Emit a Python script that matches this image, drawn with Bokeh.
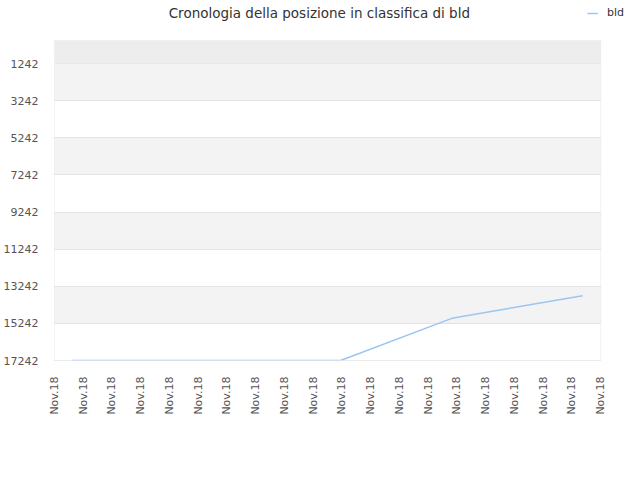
from bokeh.plotting import figure
from bokeh.models import FixedTicker, Range1d, Legend, LegendItem, BoxAnnotation, Label
from bokeh.embed import file_html
from bokeh.resources import INLINE
import math

title_text = "Cronologia della posizione in classifica di bld"
series_name = "bld"
x_tick_labels = ["Nov.18"] * 20
x_ticks = list(range(len(x_tick_labels)))
y_ticks = [1242, 3242, 5242, 7242, 9242, 11242, 13242, 15242, 17242]
y_worst, y_best = 17242, 0
time_x = [0.62, 9.95, 13.82, 18.37]
rank = [17242, 17242, 14970, 13750]

FONT = "DejaVu Sans"
LINE_COLOR = "#99c6f3"
BORDER = "#d8d8d8"

# canvas / plot-area geometry (pixels)
W, H = 632, 472
AREA_L, AREA_R, AREA_T, AREA_B = 50, 600, 40, 360
PAD = 2  # frame extends a little past the plot area on left/bottom so the border is not clipped
FRAME_L, FRAME_B = AREA_L - PAD, AREA_B + PAD

x_lo, x_hi = x_ticks[0], x_ticks[-1]
x_per_px = (x_hi - x_lo) / (AREA_R - AREA_L)
y_per_px = (y_worst - y_best) / (AREA_B - AREA_T)


def px_x(px):
    return x_lo + (px - AREA_L) * x_per_px


def px_y(py):
    return y_best + (py - AREA_T) * y_per_px


p = figure(width=W, height=H, output_backend="svg", toolbar_location=None,
           x_range=Range1d(px_x(FRAME_L), px_x(W)), y_range=Range1d(px_y(FRAME_B), px_y(0)),
           min_border_left=FRAME_L, min_border_right=0, min_border_top=0,
           min_border_bottom=H - FRAME_B)
p.title = None
p.background_fill_color = "white"
p.border_fill_color = "white"
p.outline_line_color = None

p.add_layout(BoxAnnotation(left=x_lo, right=x_hi, top=y_best, bottom=y_ticks[0],
                           fill_color="#ededed", fill_alpha=1, line_alpha=0, level="underlay"))

r = p.line(time_x, rank, line_color=LINE_COLOR, line_width=1.5)

p.xgrid.visible = False
p.ygrid.ticker = FixedTicker(ticks=y_ticks)
p.ygrid.grid_line_color = "#e3e3e3"
p.ygrid.band_fill_color = "#f3f3f3"
p.ygrid.band_fill_alpha = 1

# white margins outside the plot area
p.add_layout(BoxAnnotation(left=x_hi, fill_color="white", fill_alpha=1, line_alpha=0))
p.add_layout(BoxAnnotation(right=x_lo, fill_color="white", fill_alpha=1, line_alpha=0))
p.add_layout(BoxAnnotation(bottom=y_best, fill_color="white", fill_alpha=1, line_alpha=0))
p.add_layout(BoxAnnotation(top=y_worst, fill_color="white", fill_alpha=1, line_alpha=0))
# plot-area border
p.add_layout(BoxAnnotation(left=x_lo, right=x_hi, top=y_best, bottom=y_worst,
                           fill_alpha=0, line_color=BORDER, line_width=1))

p.xaxis.ticker = FixedTicker(ticks=x_ticks)
p.xaxis.major_label_overrides = {i: lab for i, lab in zip(x_ticks, x_tick_labels)}
p.xaxis.major_label_orientation = math.pi / 2
p.yaxis.ticker = FixedTicker(ticks=y_ticks)
for ax in (p.xaxis[0], p.yaxis[0]):
    ax.axis_line_color = None
    ax.major_tick_line_color = None
    ax.minor_tick_line_color = None
    ax.major_label_text_font = FONT
    ax.major_label_text_font_size = "11px"
    ax.major_label_text_color = "#555555"
p.xaxis.major_label_standoff = 10 - PAD
p.yaxis.major_label_standoff = 10 - PAD

p.add_layout(Label(x=px_x(165), y=px_y(12), text=title_text, text_font=FONT,
                   text_font_size="13.5px", text_color="#333333",
                   text_baseline="middle", text_align="left"))

legend = Legend(items=[LegendItem(label=series_name, renderers=[r])],
                location=(583 - FRAME_L, FRAME_B - 19),
                padding=0, margin=0, border_line_alpha=0, background_fill_alpha=0,
                glyph_width=11, glyph_height=12, label_standoff=9,
                label_text_font=FONT, label_text_font_size="11px", label_text_color="#333333")
p.add_layout(legend, "center")

open("out.html", "w").write(file_html(p, INLINE))
